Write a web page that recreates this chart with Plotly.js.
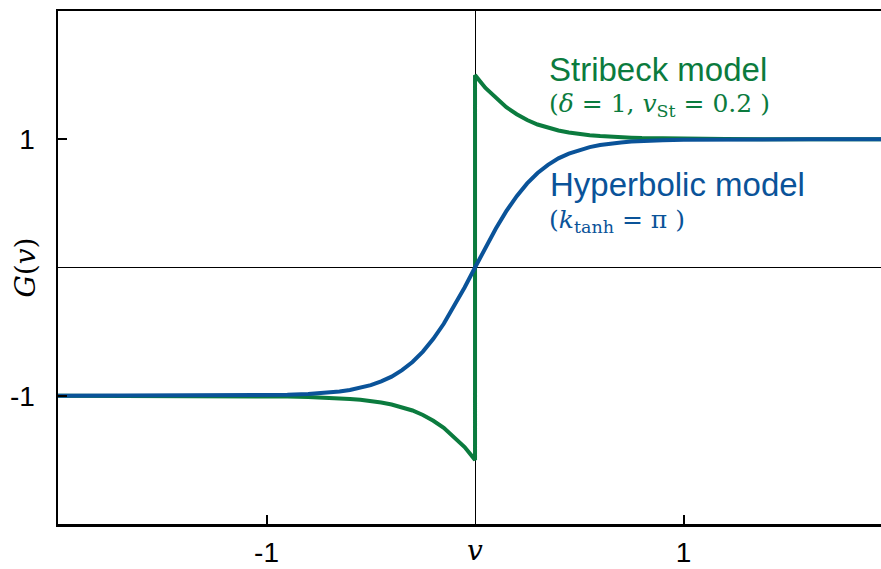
<!DOCTYPE html>
<html>
<head>
<meta charset="utf-8">
<script src="https://cdn.plot.ly/plotly-3.0.1.min.js"></script>
<style>
  html, body { margin: 0; padding: 0; background: #fff; }
  #chart { width: 881px; height: 569px; }
</style>
</head>
<body>
<div id="chart"></div>
<script>
// Velocity samples and friction characteristic G(v) for two models
const vHyperbolic = [-2.0, -1.6, -1.4, -1.2, -1.0, -0.9, -0.8, -0.75, -0.7, -0.65, -0.6, -0.55, -0.5, -0.45, -0.4, -0.35, -0.3, -0.25, -0.2, -0.15, -0.1, -0.05,
  0, 0.05, 0.1, 0.15, 0.2, 0.25, 0.3, 0.35, 0.4, 0.45, 0.5, 0.55, 0.6, 0.65, 0.7, 0.75, 0.8, 0.9, 1.0, 1.2, 1.4, 1.6, 1.95];
const gHyperbolic = [-1.000, -1.000, -1.000, -0.999, -0.996, -0.993, -0.987, -0.982, -0.975, -0.967, -0.955, -0.939, -0.917, -0.888, -0.851, -0.800, -0.737, -0.656, -0.556, -0.439, -0.304, -0.156,
  0, 0.156, 0.304, 0.439, 0.556, 0.656, 0.737, 0.800, 0.851, 0.888, 0.917, 0.939, 0.955, 0.967, 0.975, 0.982, 0.987, 0.993, 0.996, 0.999, 1.000, 1.000, 1.000];

const vStribeck = [-2.0, -1.6, -1.4, -1.2, -1.0, -0.9, -0.8, -0.75, -0.7, -0.65, -0.6, -0.55, -0.5, -0.45, -0.4, -0.35, -0.3, -0.25, -0.2, -0.15, -0.1, -0.05,
  0, 0, 0.05, 0.1, 0.15, 0.2, 0.25, 0.3, 0.35, 0.4, 0.45, 0.5, 0.55, 0.6, 0.65, 0.7, 0.75, 0.8, 0.9, 1.0, 1.2, 1.4, 1.6, 1.95];
const gStribeck = [-1.000, -1.000, -1.000, -1.001, -1.003, -1.006, -1.009, -1.012, -1.015, -1.019, -1.025, -1.032, -1.041, -1.053, -1.068, -1.090, -1.115, -1.150, -1.195, -1.250, -1.320, -1.400,
  -1.500, 1.500, 1.400, 1.320, 1.250, 1.195, 1.150, 1.115, 1.090, 1.068, 1.053, 1.041, 1.032, 1.025, 1.019, 1.015, 1.012, 1.009, 1.006, 1.003, 1.001, 1.000, 1.000, 1.000];

const tickVals = [-1, 1];
const tickText = ['-1', '1'];

const GREEN = '#0b7b3e';
const BLUE = '#0a5399';
const SANS = 'Liberation Sans, Arial, sans-serif';
const SERIF = 'DejaVu Serif, Liberation Serif, serif';

const traces = [
  {
    x: vStribeck, y: gStribeck, type: 'scatter', mode: 'lines',
    name: 'Stribeck model', line: { color: GREEN, width: 4 }
  },
  {
    x: vHyperbolic, y: gHyperbolic, type: 'scatter', mode: 'lines',
    name: 'Hyperbolic model', line: { color: BLUE, width: 4 }
  }
];

const layout = {
  width: 881, height: 569,
  margin: { l: 58, r: 0, t: 11, b: 45, pad: 0 },
  paper_bgcolor: '#fff', plot_bgcolor: '#fff',
  showlegend: false,
  xaxis: {
    range: [-2.0, 1.947], showgrid: false,
    zeroline: true, zerolinecolor: '#000', zerolinewidth: 1,
    showline: true, linecolor: '#000', linewidth: 2.5, mirror: true,
    ticks: 'inside', ticklen: 9, tickwidth: 2, tickcolor: '#000',
    tickvals: tickVals, ticktext: tickText,
    tickfont: { family: SANS, size: 28, color: '#000' },
    ticklabelstandoff: 2,
    fixedrange: true
  },
  yaxis: {
    range: [-2.0, 2.0], showgrid: false,
    zeroline: true, zerolinecolor: '#000', zerolinewidth: 1,
    showline: true, linecolor: '#000', linewidth: 2.5, mirror: false,
    ticks: 'inside', ticklen: 9, tickwidth: 2, tickcolor: '#000',
    tickvals: tickVals, ticktext: tickText,
    tickfont: { family: SANS, size: 28, color: '#000' },
    ticklabelstandoff: 15,
    fixedrange: true
  },
  annotations: [
    // axis titles
    { xref: 'x', yref: 'paper', x: 0, y: -0.052, yanchor: 'middle', xanchor: 'center', showarrow: false,
      text: '<i>v</i>', font: { family: SERIF, size: 28, color: '#000' } },
    { xref: 'paper', yref: 'y', x: -0.04, y: 0, xanchor: 'center', yanchor: 'middle', showarrow: false,
      textangle: -90, text: '<i>G</i>(<i>v</i>)', font: { family: SERIF, size: 28, color: '#000' } },
    // model labels
    { xref: 'x', yref: 'y', x: 0.345, y: 1.545, xanchor: 'left', yanchor: 'middle', showarrow: false,
      text: 'Stribeck model', font: { family: SANS, size: 33, color: GREEN } },
    { xref: 'x', yref: 'y', x: 0.345, y: 1.265, xanchor: 'left', yanchor: 'middle', showarrow: false,
      text: '(<i>δ</i> = 1, <i>v</i><sub>St</sub> = 0.2 )', font: { family: SERIF, size: 25, color: GREEN } },
    { xref: 'x', yref: 'y', x: 0.35, y: 0.645, xanchor: 'left', yanchor: 'middle', showarrow: false,
      text: 'Hyperbolic model', font: { family: SANS, size: 33, color: BLUE } },
    { xref: 'x', yref: 'y', x: 0.345, y: 0.365, xanchor: 'left', yanchor: 'middle', showarrow: false,
      text: '(<i>k</i><sub>tanh</sub> = π )', font: { family: SERIF, size: 25, color: BLUE } }
  ]
};

Plotly.newPlot('chart', traces, layout, { staticPlot: true, displayModeBar: false });
</script>
</body>
</html>
